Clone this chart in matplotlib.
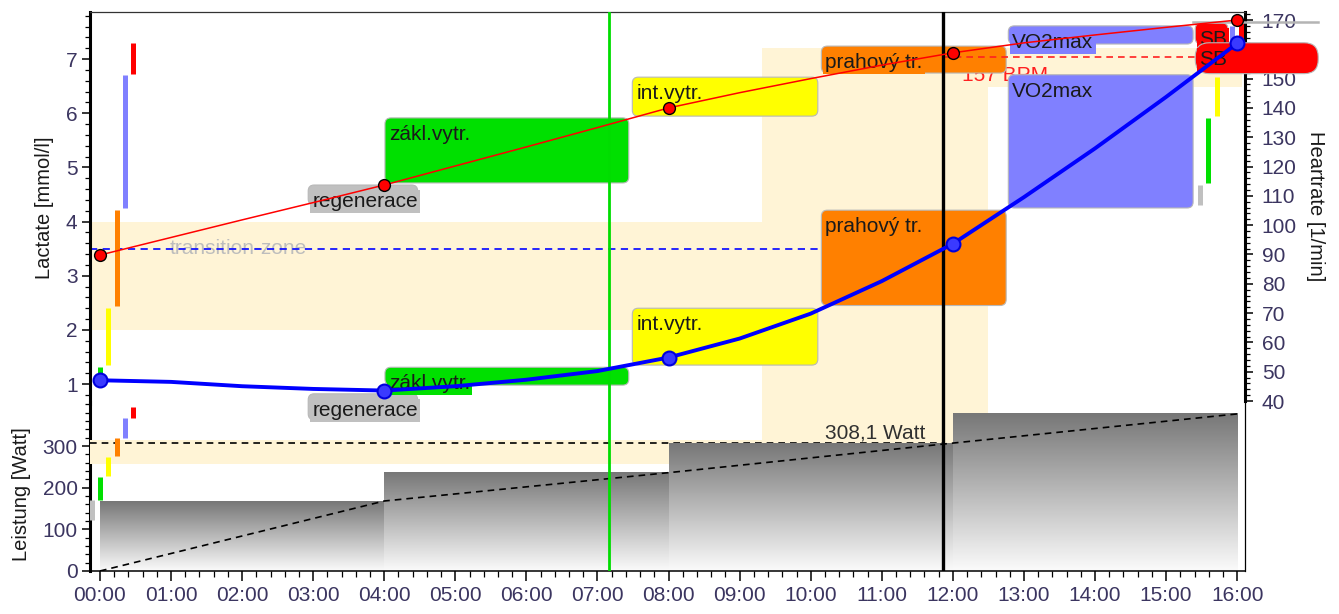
import numpy as np
import matplotlib.pyplot as plt
from matplotlib.colors import LinearSegmentedColormap
from matplotlib.patches import Rectangle, FancyBboxPatch
from matplotlib.ticker import FixedLocator

plt.rcParams.update({"font.family": ["Liberation Sans", "DejaVu Sans"], "font.size": 15})

TICK_COLOR = "#3b3560"
TEXT_COLOR = "#1a1a1a"
BEIGE = "#fff4d6"

# x axis (minutes)
time_ticks = [0, 1, 2, 3, 4, 5, 6, 7, 8, 9, 10, 11, 12, 13, 14, 15, 16]
time_labels = ["00:00", "01:00", "02:00", "03:00", "04:00", "05:00", "06:00", "07:00", "08:00",
               "09:00", "10:00", "11:00", "12:00", "13:00", "14:00", "15:00", "16:00"]

# measured stages
stage_time = [0, 4, 8, 12, 16]
stage_lactate = [1.07, 0.88, 1.49, 3.59, 7.29]
stage_hr = [89.8, 113.7, 140.0, 158.8, 170.0]
stage_power = [168, 236, 307, 377]
ramp_power = [0, 168, 236, 307, 377]

# fitted curves, read every minute
curve_time = [0, 1, 2, 3, 4, 5, 6, 7, 8, 9, 10, 11, 12, 13, 14, 15, 16]
curve_lactate = [1.07, 1.04, 0.96, 0.91, 0.88, 0.96, 1.08, 1.24, 1.49, 1.84, 2.30, 2.90,
                 3.59, 4.45, 5.35, 6.30, 7.29]
curve_hr = [89.8, 95.8, 101.8, 107.7, 113.7, 120.2, 126.7, 133.3, 140.0, 145.2, 150.0,
            154.6, 158.8, 162.2, 164.9, 167.5, 170.0]

# training zones
zone_names = ["regenerace", "zákl.vytr.", "int.vytr.", "prahový tr.", "VO2max", "SB"]
zone_colors = ["#c0c0c0", "#00e000", "#ffff00", "#ff8000", "#8080ff", "#ff0000"]
zone_start = [2.93, 4.01, 7.49, 10.15, 12.78, 15.41]
hr_zone_end = [4.47, 7.44, 10.10, 12.75, 15.38, 15.87]
lac_zone_end = [4.47, 7.44, 10.10, 12.75, 15.38, 17.14]
hr_zone_lo = [106.9, 114.4, 137.2, 151.9, 161.8, 161.8]
hr_zone_hi = [113.7, 136.6, 150.5, 161.1, 168.0, 169.0]
lac_zone_lo = [0.34, 0.98, 1.35, 2.45, 4.25, 6.73]
lac_zone_hi = [0.82, 1.31, 2.40, 4.21, 6.71, 7.30]
pow_zone_lo = [122, 170, 228, 276, 319, 367]
pow_zone_hi = [170, 225, 273, 319, 367, 393]

# threshold
thr_time = 11.86
thr_lactate = 3.5
thr_hr = 157.4
thr_power = 308.1
marker_time = 7.16
hr_max = 169.3
lac_band = (2.0, 4.0)
hr_band = (147.0, 160.5)
pow_band = (258, 315)
time_band = (9.32, 12.50)
time_band_hr = (0, 160.5)

XLIM = (-0.14, 16.11)

fig = plt.figure(figsize=(13.39, 6.14), dpi=100)
rect = [90 / 1339, 43 / 614, 1155 / 1339, 559 / 614]

ax_pow = fig.add_axes(rect)
ax_hr = fig.add_axes(rect)
ax = fig.add_axes(rect)
for a in (ax_pow, ax_hr, ax):
    a.set_xlim(*XLIM)
ax.set_ylim(-2.451, 7.868)
ax_pow.set_ylim(0, 1341.6)
ax_hr.set_ylim(-18.0, 172.73)
ax_hr.patch.set_visible(False)
ax.patch.set_visible(False)

T_lac = ax.transData
T_hr = ax_hr.transData
T_pow = ax_pow.transData


def px_per_unit(trans):
    p0 = trans.transform((0, 0))
    p1 = trans.transform((1, 1))
    return p1 - p0


sx = px_per_unit(T_lac)[0]


def rounded_box(x0, x1, lo, hi, trans, color, radius=6, **kw):
    sy = px_per_unit(trans)[1]
    box = FancyBboxPatch((x0, lo), x1 - x0, hi - lo,
                         boxstyle=f"round,pad=0,rounding_size={radius / sx}",
                         mutation_aspect=sx / sy, transform=trans,
                         fc=color, ec="#b8b8b8", lw=0.8, **kw)
    ax.add_patch(box)


def box_label(text, x0, hi, trans, color, z):
    ax.annotate(text, xy=(x0, hi), xycoords=trans, xytext=(4, -7),
                textcoords="offset pixels", ha="left", va="top", color=TEXT_COLOR,
                zorder=z, annotation_clip=False,
                bbox=dict(boxstyle="square,pad=0.1", fc=color, ec="none"))


# beige threshold zones
ax.add_patch(Rectangle((XLIM[0], lac_band[0]), time_band[0] - XLIM[0], lac_band[1] - lac_band[0],
                       transform=T_lac, fc=BEIGE, ec="none", zorder=1))
ax.add_patch(Rectangle((time_band[0], hr_band[0]), 16.07 - time_band[0], hr_band[1] - hr_band[0],
                       transform=T_hr, fc=BEIGE, ec="none", zorder=1))
ax.add_patch(Rectangle((time_band[0], time_band_hr[0]), time_band[1] - time_band[0],
                       time_band_hr[1] - time_band_hr[0], transform=T_hr, fc=BEIGE, ec="none", zorder=1))
ax.add_patch(Rectangle((XLIM[0], pow_band[0]), time_band[0] - XLIM[0], pow_band[1] - pow_band[0],
                       transform=T_pow, fc=BEIGE, ec="none", zorder=1))

# threshold lines
ax.plot([XLIM[0], thr_time], [thr_lactate, thr_lactate], color="#1515ff", lw=1.3,
        dashes=(4, 3), zorder=1.6)
ax.plot([thr_time, XLIM[1]], [thr_hr, thr_hr], transform=T_hr, color="#ff2020", lw=1.2,
        dashes=(4, 3), zorder=2.3)
ax.plot([XLIM[0], thr_time], [thr_power, thr_power], transform=T_pow, color="black", lw=1.2,
        dashes=(4, 3), zorder=1.2)
ax.text(0.98, thr_lactate, "transition-zone", color="#bdbdbd", va="center",
        ha="left", zorder=1.5)
ax.annotate("157 BPM", xy=(thr_time, thr_hr), xycoords=T_hr, xytext=(19, -9),
            textcoords="offset pixels", color="#ff2020", ha="left", va="top", zorder=1.9)
ax.annotate("308,1 Watt", xy=(thr_time, thr_power), xycoords=T_pow, xytext=(-18, 4),
            textcoords="offset pixels", color="#303030", ha="right", va="baseline", zorder=1.9)

# power steps with gradient
grey_cmap = LinearSegmentedColormap.from_list("grey", ["#fbfbfb", "#777777"])
grad = np.linspace(0, 1, 256).reshape(-1, 1)
for i, p in enumerate(stage_power):
    ax.imshow(grad, cmap=grey_cmap, origin="lower", aspect="auto", interpolation="bilinear",
              extent=(stage_time[i], stage_time[i + 1], 0, p), transform=T_pow, zorder=1.3)
ax.plot(stage_time, ramp_power, transform=T_pow, color="black", lw=1.2, dashes=(4, 3), zorder=1.4)

# zone bars next to the axes
left_bar_time = [-0.11, 0.0, 0.115, 0.24, 0.35, 0.46]
right_bar_time = [15.48, 15.59, 15.71, 15.82, 15.93, 16.05]
for i in range(6):
    c = zone_colors[i]
    if i > 0:
        ax.plot([left_bar_time[i]] * 2, [lac_zone_lo[i], lac_zone_hi[i]], color=c, lw=3.6,
                solid_capstyle="butt", zorder=1.8)
    ax.plot([left_bar_time[i]] * 2, [pow_zone_lo[i], pow_zone_hi[i]], transform=T_pow, color=c,
            lw=3.6, solid_capstyle="butt", zorder=1.8)
    ax.plot([right_bar_time[i]] * 2, [hr_zone_lo[i], hr_zone_hi[i]], transform=T_hr, color=c,
            lw=3.6, solid_capstyle="butt", zorder=1.8)

# zone boxes: heart rate (upper) and lactate (lower)
for i, name in enumerate(zone_names):
    c = zone_colors[i]
    rounded_box(zone_start[i], hr_zone_end[i], hr_zone_lo[i], hr_zone_hi[i], T_hr, c, zorder=2.0)
    box_label(name, zone_start[i], hr_zone_hi[i], T_hr, c, 2.1)
    if name == "SB":
        rounded_box(zone_start[i], lac_zone_end[i], lac_zone_lo[i], lac_zone_hi[i], T_lac, c,
                    radius=14, zorder=2.6, clip_on=False)
        box_label(name, zone_start[i], lac_zone_hi[i], T_lac, c, 2.7)
    else:
        rounded_box(zone_start[i], lac_zone_end[i], lac_zone_lo[i], lac_zone_hi[i], T_lac, c, zorder=2.0)
        box_label(name, zone_start[i], lac_zone_hi[i], T_lac, c, 2.1)

ax.plot([zone_start[5] - 0.03, 17.14], [hr_max, hr_max], transform=T_hr, color="#b4b4b4", lw=1.8,
        zorder=2.8, clip_on=False)

# markers in time
ax.axvline(marker_time, color="#00dd00", lw=2.0, zorder=3)
ax.axvline(thr_time, color="black", lw=2.4, zorder=3)

# curves
ax.plot(curve_time, curve_hr, transform=T_hr, color="#ff0000", lw=1.1, zorder=4)
ax.plot(stage_time, stage_hr, transform=T_hr, ls="none", marker="o", ms=8.5, mfc="#ff0000",
        mec="black", mew=1.0, zorder=5)
ax.plot(curve_time, curve_lactate, color="#0000ff", lw=2.8, zorder=4.5)
ax.plot(stage_time, stage_lactate, ls="none", marker="o", ms=10, mfc="#3a3aff", mec="#0000dd",
        mew=1.5, zorder=5.5)

# axes styling
for a in (ax_pow, ax_hr):
    a.xaxis.set_visible(False)
    for s in a.spines.values():
        s.set_visible(False)

ax_pow.spines["left"].set_visible(True)
ax_pow.spines["left"].set_bounds(0, 405)
ax_pow.spines["left"].set_linewidth(2.2)
ax_pow.set_yticks([0, 100, 200, 300])
ax_pow.yaxis.set_minor_locator(FixedLocator(np.arange(20, 401, 20)))
ax_pow.tick_params(axis="y", which="major", length=6, width=1.1, pad=3, labelcolor=TICK_COLOR)
ax_pow.tick_params(axis="y", which="minor", length=3.5, width=0.9)

ax_hr.yaxis.tick_right()
ax_hr.spines["right"].set_visible(True)
ax_hr.spines["right"].set_bounds(40, 172.73)
ax_hr.spines["right"].set_linewidth(2.2)
ax_hr.set_yticks(list(range(40, 171, 10)))
ax_hr.yaxis.set_minor_locator(FixedLocator(np.arange(40, 173, 2)))
ax_hr.tick_params(axis="y", which="major", length=6, width=1.1, pad=6, labelcolor=TICK_COLOR)
ax_hr.tick_params(axis="y", which="minor", length=3.5, width=0.9)

ax.spines["left"].set_bounds(0.64, 7.868)
ax.spines["left"].set_linewidth(2.2)
ax.spines["right"].set_linewidth(0.9)
ax.spines["top"].set_linewidth(0.9)
ax.spines["top"].set_color("#333333")
ax.spines["bottom"].set_linewidth(1.1)
ax.set_yticks([1, 2, 3, 4, 5, 6, 7])
ax.yaxis.set_minor_locator(FixedLocator(np.arange(0.8, 7.81, 0.2)))
ax.tick_params(axis="y", which="major", right=False, length=6, width=1.1, pad=3,
               labelcolor=TICK_COLOR)
ax.tick_params(axis="y", which="minor", right=False, length=3.5, width=0.9)
ax.set_xticks(time_ticks, time_labels)
ax.xaxis.set_minor_locator(FixedLocator(np.arange(0, 16.01, 0.2)))
ax.tick_params(axis="x", which="major", length=7, width=1.1, pad=4, labelcolor=TICK_COLOR)
ax.tick_params(axis="x", which="minor", length=4, width=0.9)

ax.set_xlim(*XLIM)
ax.set_ylim(-2.451, 7.868)

fig.text(45 / 1339, 1 - 208 / 614, "Lactate [mmol/l]", rotation=90, ha="center", va="center",
         color=TEXT_COLOR, fontsize=14.5)
fig.text(22 / 1339, 1 - 494 / 614, "Leistung [Watt]", rotation=90, ha="center", va="center",
         color=TEXT_COLOR, fontsize=14.5)
fig.text(1316 / 1339, 1 - 206 / 614, "Heartrate [1/min]", rotation=270, ha="center", va="center",
         color=TEXT_COLOR, fontsize=14.5)

fig.savefig("out.png", dpi=100)
